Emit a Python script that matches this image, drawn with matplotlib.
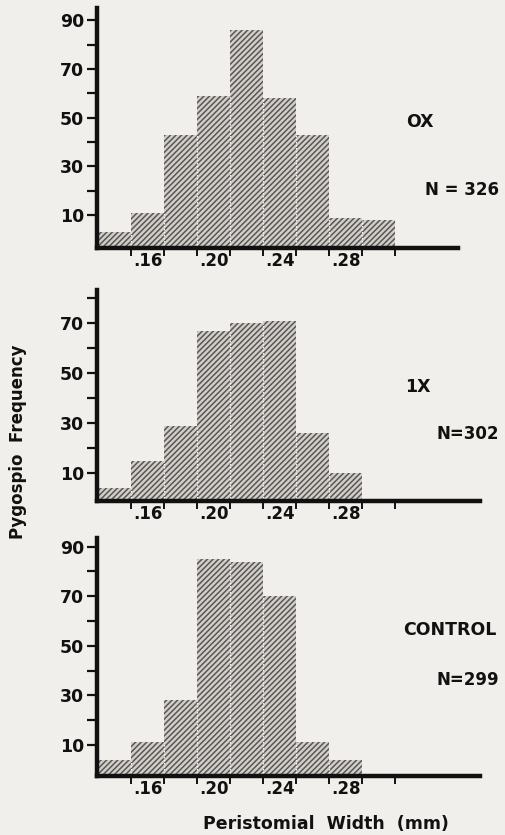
import matplotlib
matplotlib.use('Agg')
import matplotlib.pyplot as plt
import numpy as np

# bin centres (mm) and counts
bin_centres = [0.14, 0.16, 0.18, 0.20, 0.22, 0.24, 0.26, 0.28, 0.30]
ox_counts = [3, 11, 43, 59, 86, 58, 43, 9, 8]
x1_counts = [4, 15, 29, 67, 70, 71, 26, 10, 0]
control_counts = [4, 11, 28, 85, 84, 70, 11, 4, 0]

panel_names = ['OX', '1X', 'CONTROL']
panel_n = ['N = 326', 'N=302', 'N=299']
xtick_labels = ['.16', '.20', '.24', '.28']
xtick_pos = [0.16, 0.20, 0.24, 0.28]
yticks_major = [10, 30, 50, 70, 90]
yticks_minor = [20, 40, 60, 80]

bg = '#f1efeb'
plt.rcParams['font.family'] = ['DejaVu Sans']
plt.rcParams['font.weight'] = 'bold'
plt.rcParams['hatch.linewidth'] = 1.1

fig = plt.figure(figsize=(5.05, 8.35), dpi=100, facecolor=bg)

W, H = 505.0, 835.0
# (left px, top px, right px, bottom px, ymin, ymax, xmax)
boxes = [
    (96.5, 8, 458, 247.5, -3.3, 95.0, 0.348),
    (96.7, 290, 480, 501, -1.1, 83.3, 0.3615),
    (96.7, 538, 480, 775.7, -2.4, 93.5, 0.3615),
]
label_pos = [((420, 122), (499, 190)), ((418, 387), (499, 434)), ((497, 630), (499, 680))]
all_counts = [ox_counts, x1_counts, control_counts]

bw = 0.02
for i, (l, t, r, b, y0, y1, xmax) in enumerate(boxes):
    ax = fig.add_axes([l / W, (H - b) / H, (r - l) / W, (b - t) / H])
    ax.set_facecolor('none')
    counts = np.array(all_counts[i], dtype=float)
    mask = counts > 0
    x = np.array(bin_centres)[mask]
    h = counts[mask]
    ax.bar(x, h - y0, width=bw, bottom=y0, color='#d2cfca', edgecolor='#5a5654',
           linewidth=0, hatch='//////', zorder=1)
    # faint light seams between adjoining bars
    for j in range(1, len(x)):
        ax.vlines(x[j] - bw / 2, y0, min(h[j - 1], h[j]), colors='#f4f4f2',
                  linestyles=(0, (1.2, 1.2)), linewidth=0.9, zorder=2)

    ax.set_xlim(0.129, xmax)
    ax.set_ylim(y0, y1)
    for s in ['top', 'right']:
        ax.spines[s].set_visible(False)
    for s in ['left', 'bottom']:
        ax.spines[s].set_linewidth(3.2)
        ax.spines[s].set_color('#111111')

    ax.set_yticks([v for v in yticks_major if v < y1])
    ax.set_yticks([v for v in yticks_minor if v < y1], minor=True)
    ax.tick_params(axis='y', which='both', direction='out', length=7, width=1.6,
                   labelsize=12.5, pad=2, colors='#111111')

    edges = np.arange(0.15, 0.311, 0.02)
    ax.set_xticks(edges)
    ax.set_xticklabels([])
    ax.set_xticks(xtick_pos, minor=True)
    ax.set_xticklabels(xtick_labels, minor=True)
    ax.tick_params(axis='x', which='major', direction='out', length=6, width=1.4,
                   colors='#111111')
    ax.tick_params(axis='x', which='minor', length=0, labelsize=12, pad=3,
                   colors='#111111')
    for lab in ax.get_yticklabels() + ax.get_xticklabels(minor=True):
        lab.set_fontweight('bold')

    (nx, ny), (cx, cy) = label_pos[i]
    ha = 'right' if panel_names[i] == 'CONTROL' else 'center'
    fig.text(nx / W, 1 - ny / H, panel_names[i], ha=ha, va='center',
             fontsize=12.5, fontweight='bold', color='#111111')
    fig.text(cx / W, 1 - cy / H, panel_n[i], ha='right', va='center',
             fontsize=12, fontweight='bold', color='#111111')

fig.text(18 / W, 1 - 442 / H, 'Pygospio  Frequency', rotation=90, ha='center',
         va='center', fontsize=12, fontweight='bold', color='#111111')
fig.text(326 / W, 1 - 824 / H, 'Peristomial  Width  (mm)', ha='center',
         va='center', fontsize=12.5, fontweight='bold', color='#111111')

fig.savefig('out.png', dpi=100, facecolor=bg)
